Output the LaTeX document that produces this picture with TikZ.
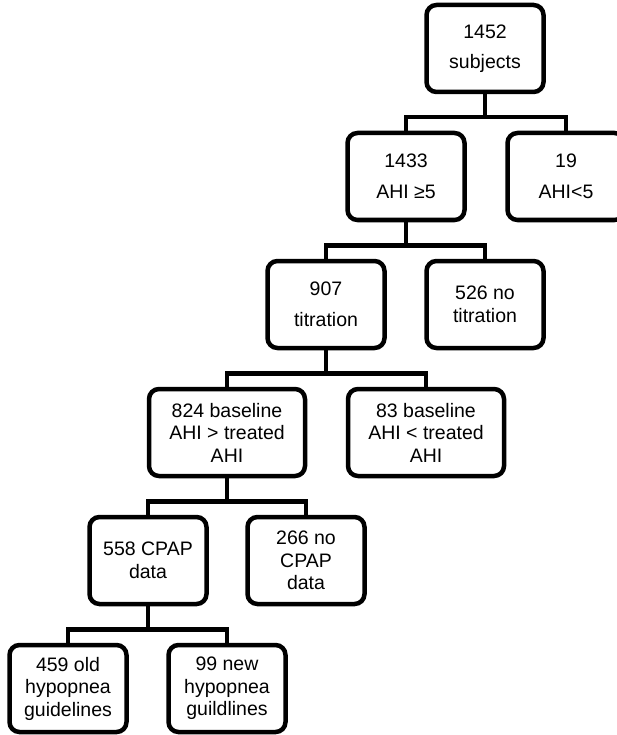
\documentclass[tikz,border=0pt]{standalone}
\usepackage{fontspec}
\setmainfont{Liberation Sans}
\begin{document}
\begin{tikzpicture}[x=1pt,y=-1pt,
  box/.style={draw=black, line width=4.5pt, rounded corners=10pt, fill=white,
    minimum width=117pt, minimum height=87pt, inner sep=0pt, align=center,
    font=\fontsize{19.5}{22.5}\selectfont},
  widebox/.style={box, minimum width=156pt},
  conn/.style={draw=black, line width=4.5pt}]
\useasboundingbox (0,0) rectangle (616,735);
% nodes
\node[box] (n1452) at (485,48.5) {1452\\[8pt]subjects};
\node[box] (n1433) at (406,176.5) {1433\\[8pt]AHI ≥5};
\node[box] (n19) at (566,176.5) {19\\[8pt]AHI<5};
\node[box] (n907) at (326,304.5) {907\\[8pt]titration};
\node[box] (n526) at (485,304.5) {526 no\\titration};
\node[widebox] (n824) at (227,432.5) {824 baseline\\AHI > treated\\AHI};
\node[widebox] (n83) at (426,432.5) {83 baseline\\AHI < treated\\AHI};
\node[box] (n558) at (148,560.5) {558 CPAP\\data};
\node[box] (n266) at (306,560.5) {266 no\\CPAP\\data};
\node[box] (n459) at (68,688.5) {459 old\\hypopnea\\guidelines};
\node[box] (n99) at (227,688.5) {99 new\\hypopnea\\guildlines};
% connectors
\draw[conn] (n1452.south) -- ++(0,23) coordinate (b0);
\draw[conn] (n1433.north) |- (b0) -| (n19.north);
\draw[conn] (n1433.south) -- ++(0,23) coordinate (b1);
\draw[conn] (n907.north) |- (b1) -| (n526.north);
\draw[conn] (n907.south) -- ++(0,23) coordinate (b2);
\draw[conn] (n824.north) |- (b2) -| (n83.north);
\draw[conn] (n824.south) -- ++(0,23) coordinate (b3);
\draw[conn] (n558.north) |- (b3) -| (n266.north);
\draw[conn] (n558.south) -- ++(0,23) coordinate (b4);
\draw[conn] (n459.north) |- (b4) -| (n99.north);
\end{tikzpicture}
\end{document}
